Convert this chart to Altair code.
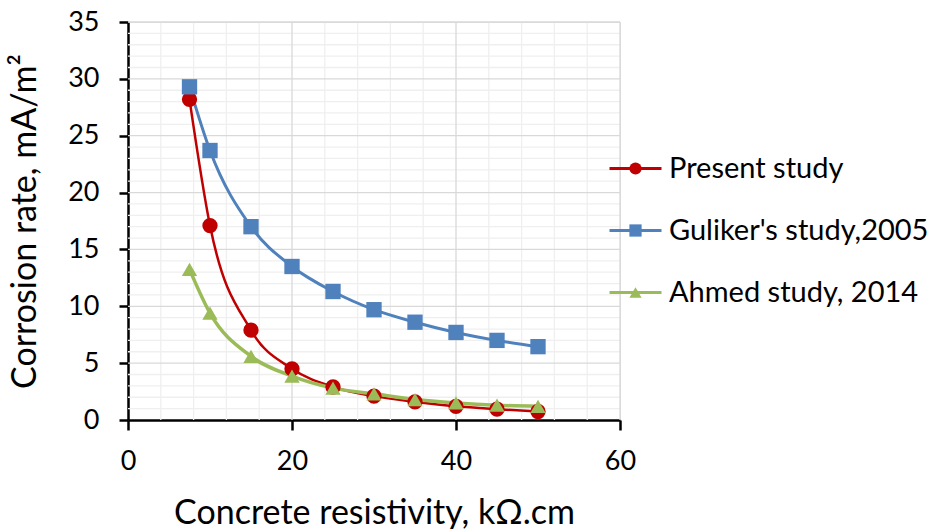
import altair as alt
import pandas as pd

# ---- data ----
resistivity = [7.5, 10, 15, 20, 25, 30, 35, 40, 45, 50]
present_study = [28.2, 17.1, 7.9, 4.5, 2.9, 2.1, 1.6, 1.2, 0.95, 0.75]
guliker_2005 = [29.3, 23.7, 17.0, 13.5, 11.3, 9.7, 8.6, 7.7, 7.0, 6.45]
ahmed_2014 = [13.25, 9.4, 5.6, 3.85, 2.8, 2.3, 1.8, 1.5, 1.3, 1.2]

series_names = ["Present study", "Guliker's study,2005", "Ahmed study, 2014"]
series_colors = ["#C00000", "#4F81BD", "#9BBB59"]
series_shapes = ["circle", "square", "triangle-up"]
series_widths = [2.5, 3.5, 3.5]

x_minor = [4, 8, 12, 16, 24, 28, 32, 36, 44, 48, 52, 56]
x_major = [20, 40, 60]
y_minor = [v for v in range(1, 35) if v % 5 != 0]
y_major = [5, 10, 15, 20, 25, 30, 35]
x_ticks = [0, 20, 40, 60]
y_ticks = [0, 5, 10, 15, 20, 25, 30, 35]

FONT = "Lato"
W, H = 492, 398

rows = []
for name, vals in zip(series_names, [present_study, guliker_2005, ahmed_2014]):
    for xv, yv in zip(resistivity, vals):
        rows.append({"x": xv, "y": yv, "series": name, "series_m": name})
df = pd.DataFrame(rows)

xs = alt.Scale(domain=[0, 60], nice=False, zero=False)
ys = alt.Scale(domain=[0, 35], nice=False, zero=False)

x_axis = alt.Axis(
    values=x_ticks, title="Concrete resistivity, kΩ.cm", grid=False, labelFlush=False,
    domainColor="black", domainWidth=2.5, tickColor="black", tickWidth=2.5, tickSize=10,
    labelFont=FONT, labelFontSize=27, labelColor="black", labelPadding=18,
    titleFont=FONT, titleFontSize=34, titleFontWeight="normal", titleColor="black", titlePadding=22)
y_axis = alt.Axis(
    values=y_ticks, title="Corrosion rate, mA/m²", grid=False, labelFlush=False,
    domainColor="black", domainWidth=2.5, tickColor="black", tickWidth=2.5, tickSize=9,
    labelFont=FONT, labelFontSize=27, labelColor="black", labelPadding=20,
    titleFont=FONT, titleFontSize=34, titleFontWeight="normal", titleColor="black", titlePadding=25)


def vgrid(vals, color):
    return alt.Chart(pd.DataFrame({"g": vals})).mark_rule(color=color, strokeWidth=1.3).encode(
        x=alt.X("g:Q", scale=xs, axis=x_axis))


def hgrid(vals, color):
    return alt.Chart(pd.DataFrame({"g": vals})).mark_rule(color=color, strokeWidth=1.3).encode(
        y=alt.Y("g:Q", scale=ys, axis=y_axis))


grid = alt.layer(vgrid(x_minor, "#EFEFEF"), hgrid(y_minor, "#EFEFEF"),
                 vgrid(x_major, "#D9D9D9"), hgrid(y_major, "#D9D9D9"))

base = alt.Chart(df)

LEG_X, LEG_Y = 493, 132
SYM = 150
LABEL_FS = 29
ROW_PAD = 32
LABEL_OFF = 19
half_len = 26 / (SYM ** 0.5 / 2)
line_path = f"M-{half_len:.3f},0H{half_len:.3f}"

lines = base.mark_line(interpolate="monotone").encode(
    x=alt.X("x:Q", scale=xs, axis=x_axis),
    y=alt.Y("y:Q", scale=ys, axis=y_axis),
    stroke=alt.Stroke("series:N", sort=series_names,
                      scale=alt.Scale(range=series_colors),
                      legend=alt.Legend(title=None, orient="none", legendX=LEG_X, legendY=LEG_Y,
                                        symbolType=line_path, symbolSize=SYM, symbolStrokeWidth=3,
                                        labelFont=FONT, labelFontSize=LABEL_FS, labelColor="black",
                                        labelLimit=400, labelOffset=LABEL_OFF, rowPadding=ROW_PAD,
                                        padding=0)),
    strokeWidth=alt.StrokeWidth("series:N", sort=series_names,
                                scale=alt.Scale(range=series_widths), legend=None),
)

legend_pts = alt.Legend(title=None, orient="none", legendX=LEG_X, legendY=LEG_Y,
                        symbolSize=SYM, symbolStrokeWidth=3, symbolStrokeColor="transparent",
                        symbolOpacity=1,
                        labelFont=FONT, labelFontSize=LABEL_FS, labelOpacity=0, labelLimit=400,
                        labelOffset=LABEL_OFF, rowPadding=ROW_PAD, padding=0)

points = base.mark_point(filled=True, size=235, opacity=1).encode(
    x=alt.X("x:Q", scale=xs, axis=x_axis),
    y=alt.Y("y:Q", scale=ys, axis=y_axis),
    color=alt.Color("series_m:N",
                    scale=alt.Scale(domain=series_names, range=series_colors), legend=legend_pts),
    shape=alt.Shape("series_m:N",
                    scale=alt.Scale(domain=series_names, range=series_shapes), legend=legend_pts),
)

chart = alt.layer(grid, lines, points).properties(
    width=W, height=H,
    autosize=alt.AutoSizeParams(type="none"),
    padding={"left": 128, "top": 22, "right": 316, "bottom": 109},
).configure_view(stroke=None).configure(background="white")

chart.save("out.html", embed_options={"renderer": "svg", "actions": False})
